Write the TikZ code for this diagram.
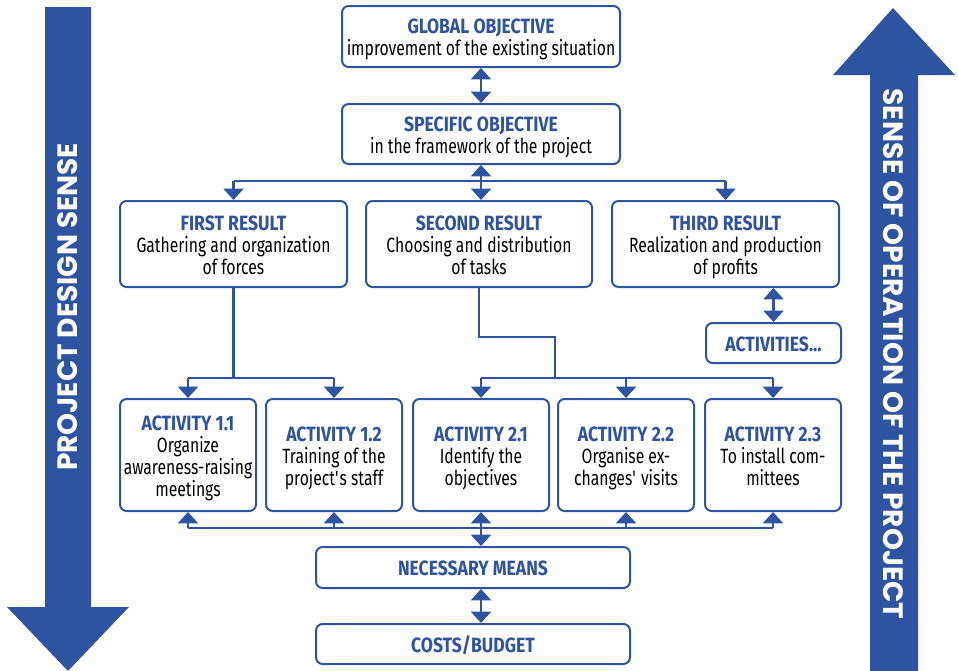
\documentclass[tikz,border=0pt]{standalone}
\usepackage{fontspec}
\setmainfont[FakeStretch=0.76, BoldFeatures={FakeStretch=0.85}]{Fira Sans}
\newfontfamily\sidefont{Poppins}
\usetikzlibrary{arrows.meta}
\definecolor{planblue}{RGB}{46,83,160}
\tikzset{
  box/.style={draw=planblue, line width=1.5pt, rounded corners=5pt, fill=white,
    align=center, inner sep=0pt, font=\fontsize{15.5}{16.5}\selectfont},
  size/.style 2 args={minimum width=#1*0.75pt, minimum height=#2*0.75pt},
  link/.style={draw=planblue, line width=1.6pt},
  tip/.style={link, -{Triangle[width=15pt,length=8.5pt]}},
  both/.style={link, {Triangle[width=15pt,length=8.5pt]}-{Triangle[width=15pt,length=8.5pt]}},
  side/.style={text=white, font=\sidefont\bfseries\fontsize{21}{24}\selectfont}
}
\newcommand{\ttl}[1]{\rule{0pt}{17.5pt}\textcolor{planblue}{\bfseries #1}}
\newcommand{\lst}[1]{#1\strut}

\begin{document}
\begin{tikzpicture}[x=0.75pt, y=-0.75pt]
  \useasboundingbox (0,0) rectangle (958,671);

  % the two big arrows
  \fill[planblue] (45,7) -- (91,7) -- (91,607) -- (129,607) -- (68,671)
    -- (7,607) -- (45,607) -- cycle;
  \fill[planblue] (870,671) -- (870,75) -- (833,75) -- (893,8) -- (955,75)
    -- (918,75) -- (918,671) -- cycle;
  \node[side, rotate=90] (design) at (68,307) {PROJECT DESIGN SENSE};
  \node[side, rotate=-90] (operation) at (893,354) {SENSE OF OPERATION OF THE PROJECT};

  % objectives and results
  \node[box, size={278}{61}] (glob) at (481,36.5)
    {\ttl{GLOBAL OBJECTIVE}\\\lst{improvement of the existing situation}};
  \node[box, size={278}{60}] (spec) at (481,134)
    {\ttl{SPECIFIC OBJECTIVE}\\\lst{in the framework of the project}};
  \node[box, size={227}{86}] (res1) at (233.5,244)
    {\ttl{FIRST RESULT}\\Gathering and organization\\\lst{of forces}};
  \node[box, size={226}{86}] (res2) at (479,244)
    {\ttl{SECOND RESULT}\\Choosing and distribution\\\lst{of tasks}};
  \node[box, size={227}{86}] (res3) at (725.5,244)
    {\ttl{THIRD RESULT}\\Realization and production\\\lst{of profits}};
  \node[box, size={135}{40}] (dots) at (773.5,343) {\lst{\ttl{ACTIVITIES...}}};

  % activities
  \node[box, size={136}{112}] (act11) at (188,455)
    {\ttl{ACTIVITY 1.1}\\Organize\\awareness-raising\\\lst{meetings}};
  \node[box, size={136}{112}] (act12) at (334,455)
    {\ttl{ACTIVITY 1.2}\\Training of the\\\lst{project\textquotesingle s staff}};
  \node[box, size={136}{112}] (act21) at (481,455)
    {\ttl{ACTIVITY 2.1}\\Identify the\\\lst{objectives}};
  \node[box, size={136}{112}] (act22) at (626,455)
    {\ttl{ACTIVITY 2.2}\\Organise ex-\\\lst{changes\textquotesingle\ visits}};
  \node[box, size={136}{112}] (act23) at (773,455)
    {\ttl{ACTIVITY 2.3}\\To install com-\\\lst{mittees}};

  \node[box, size={314}{41}] (means) at (473,567.5) {\lst{\ttl{NECESSARY MEANS}}};
  \node[box, size={314}{40}] (costs) at (473,644) {\lst{\ttl{COSTS/BUDGET}}};

  % connectors
  \coordinate (topbus) at (481,181);
  \coordinate (bend) at (555,337);
  \coordinate (midbus) at (555,378);
  \coordinate (lowbus) at (481,528);

  \draw[both] (glob) -- (spec);
  \draw[link] (res1.north |- topbus) -- (res3.north |- topbus);
  \draw[both] (spec.south) -- (spec.south |- res2.north);
  \draw[tip] (res1.north |- topbus) -- (res1.north);
  \draw[tip] (res3.north |- topbus) -- (res3.north);
  \draw[both] (res3.south -| dots) -- (dots.north);

  \draw[link] (res1.south) -- (res1.south |- midbus);
  \draw[link] (act11.north |- midbus) -- (act12.north |- midbus);
  \draw[link] (res2.south) |- (bend) -- (midbus);
  \draw[link] (act21.north |- midbus) -- (act23.north |- midbus);
  \foreach \a in {act11,act12,act21,act22,act23}
    \draw[tip] (\a.north |- midbus) -- (\a.north);

  \draw[link] (act11.south |- lowbus) -- (act23.south |- lowbus);
  \foreach \a in {act11,act12,act22,act23}
    \draw[tip] (\a.south |- lowbus) -- (\a.south);
  \draw[both] (act21.south) -- (act21.south |- means.north);
  \draw[both] (means.south -| act21) -- (costs.north -| act21);
\end{tikzpicture}
\end{document}
